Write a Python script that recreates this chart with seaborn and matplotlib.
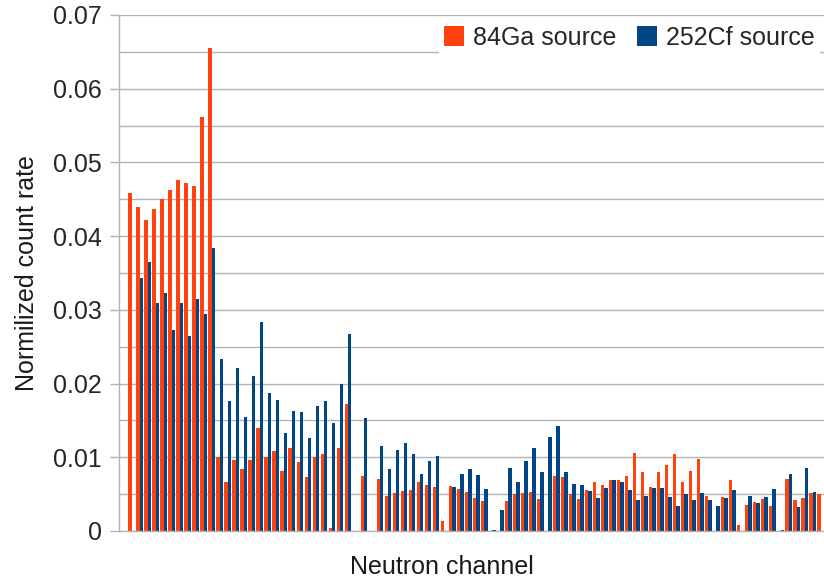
import numpy as np
import pandas as pd
import matplotlib
matplotlib.use("Agg")
import matplotlib.pyplot as plt
from matplotlib.ticker import MultipleLocator, FuncFormatter
import seaborn as sns

sns.set_style("white")
plt.rcParams['font.family'] = ['Liberation Sans', 'DejaVu Sans']

# neutron channels 1..87
channels = [str(i) for i in range(1, 88)]

ga84 = [0.0458, 0.0440, 0.0422, 0.0437, 0.0450, 0.0463, 0.0476, 0.0472, 0.0468, 0.0562,
        0.0655, 0.0100, 0.0066, 0.0096, 0.0084, 0.0096, 0.0140, 0.0100, 0.0108, 0.0081,
        0.0113, 0.0093, 0.0073, 0.0100, 0.0105, 0.0004, 0.0113, 0.0172, 0.0, 0.0074,
        0.0, 0.0071, 0.0048, 0.0052, 0.0054, 0.0055, 0.0066, 0.0062, 0.0060, 0.0014,
        0.0061, 0.0057, 0.0053, 0.0045, 0.0041, 0.0, 0.0, 0.0041, 0.0050, 0.0051,
        0.0053, 0.0043, 0.0, 0.0074, 0.0073, 0.0050, 0.0043, 0.0055, 0.0067, 0.0063,
        0.0069, 0.0069, 0.0074, 0.0106, 0.0080, 0.0060, 0.0080, 0.0090, 0.0104, 0.0066,
        0.0082, 0.0098, 0.0048, 0.0, 0.0046, 0.0069, 0.0008, 0.0035, 0.0040, 0.0044,
        0.0034, 0.0, 0.0071, 0.0042, 0.0045, 0.0052, 0.0050]

cf252 = [0.0, 0.0343, 0.0365, 0.0309, 0.0323, 0.0272, 0.0309, 0.0264, 0.0315, 0.0294,
         0.0384, 0.0234, 0.0177, 0.0221, 0.0154, 0.0210, 0.0284, 0.0187, 0.0178, 0.0133,
         0.0163, 0.0162, 0.0126, 0.0170, 0.0177, 0.0146, 0.0199, 0.0267, 0.0, 0.0153,
         0.0, 0.0115, 0.0084, 0.0110, 0.0120, 0.0105, 0.0077, 0.0095, 0.0102, 0.0,
         0.0060, 0.0077, 0.0084, 0.0076, 0.0057, 0.0002, 0.0028, 0.0086, 0.0067, 0.0095,
         0.0112, 0.0080, 0.0127, 0.0142, 0.0080, 0.0064, 0.0062, 0.0054, 0.0045, 0.0058,
         0.0069, 0.0067, 0.0056, 0.0042, 0.0048, 0.0058, 0.0058, 0.0046, 0.0034, 0.0050,
         0.0042, 0.0051, 0.0042, 0.0034, 0.0045, 0.0055, 0.0, 0.0047, 0.0038, 0.0046,
         0.0057, 0.0002, 0.0078, 0.0032, 0.0085, 0.0053, 0.0]

series_names = ["84Ga source", "252Cf source"]
colors = ["#ff420e", "#004586"]
grid_color = "#b3b3b3"

df = pd.DataFrame({
    "channel": channels * 2,
    "rate": ga84 + cf252,
    "source": [series_names[0]] * len(ga84) + [series_names[1]] * len(cf252),
})

fig = plt.figure(figsize=(8.24, 5.85), dpi=100)
ax = fig.add_axes([119 / 824, 1 - 531 / 585, 705 / 824, 516 / 585])

sns.barplot(data=df, x="channel", y="rate", hue="source", palette=colors,
            saturation=1, width=0.85, gap=0, linewidth=0, errorbar=None, ax=ax)

ax.set_xlim(-1.585, 86.43)
ax.set_ylim(0, 0.07)

ax.yaxis.set_major_locator(MultipleLocator(0.01))
ax.yaxis.set_minor_locator(MultipleLocator(0.005))
ax.yaxis.set_major_formatter(FuncFormatter(lambda v, p: "0" if abs(v) < 1e-9 else f"{v:g}"))
ax.grid(True, axis="y", which="both", color=grid_color, lw=1)
ax.set_axisbelow(True)

ax.tick_params(axis="y", which="major", length=6.5, width=1, color=grid_color,
               labelsize=18, pad=5.8, direction="out", left=True)
ax.tick_params(axis="y", which="minor", length=0)
ax.tick_params(axis="x", length=0, labelbottom=False)

for side in ["top", "right"]:
    ax.spines[side].set_visible(False)
for side in ["left", "bottom"]:
    ax.spines[side].set_color(grid_color)
    ax.spines[side].set_linewidth(1)

ax.set_xlabel("Neutron channel", fontsize=18, color="#1a1a1a")
ax.set_ylabel("Normilized count rate", fontsize=18, color="#1a1a1a")
ax.xaxis.set_label_coords(0.4586, -0.047)
ax.yaxis.set_label_coords(-0.114, 0.5)

handles, labels = ax.get_legend_handles_labels()
ax.legend(handles, labels, ncol=2, loc="center right",
          bbox_to_anchor=(820 / 824, 1 - 37.7 / 585), bbox_transform=fig.transFigure,
          frameon=True, fancybox=False, edgecolor="none", facecolor="white", framealpha=1,
          borderpad=0.2, borderaxespad=0, handlelength=0.8, handleheight=0.8,
          handletextpad=0.36, columnspacing=0.84, fontsize=18, title=None)

fig.savefig("out.png", dpi=100)
